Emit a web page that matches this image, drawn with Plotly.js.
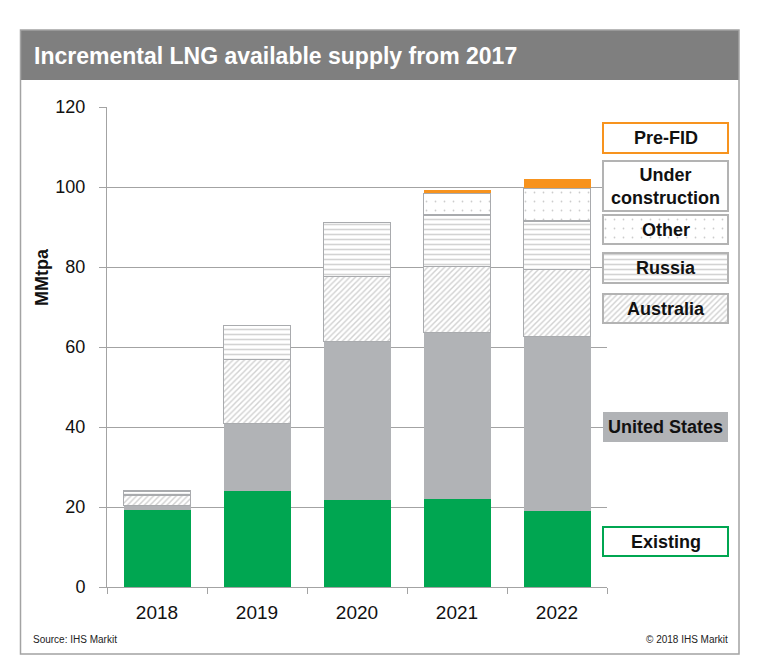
<!DOCTYPE html>
<html>
<head>
<meta charset="utf-8">
<script src="https://cdn.plot.ly/plotly-3.0.1.min.js"></script>
<style>html,body{margin:0;padding:0;background:#fff;}#chart{width:758px;height:672px;}</style>
</head>
<body>
<div id="chart"></div>
<script>
// ---- data ----
const years = ['2018', '2019', '2020', '2021', '2022'];
const existing = [19.3, 24.1, 21.7, 22.0, 18.9];
const unitedStates = [1.0, 16.8, 39.7, 41.6, 43.7];
const australia = [2.7, 15.9, 16.2, 16.6, 16.8];
const russia = [1.0, 8.5, 13.6, 12.8, 12.1];
const other = [null, null, null, 5.4, 8.2];
const preFid = [null, null, null, 0.85, 2.2];
const yTicks = [0, 20, 40, 60, 80, 100, 120];

// ---- geometry helpers (pixels -> paper) ----
const W = 758, H = 672, L = 107, R = 28, T = 107, B = 85;
const plotW = W - L - R, plotH = H - T - B;
const ppx = x => (x - L) / plotW;
const ppy = y => (H - B - y) / plotH;
const pyv = y => (H - B - y) / plotH * 120; // pixel -> y value on legend axis

const FONT = 'Liberation Sans, Arial, Helvetica, sans-serif';
const GREEN = '#00a651', GREY = '#b1b3b6', ORANGE = '#f7931e', EDGE = '#a9abae';

const pat = (shape, size, solidity, fg) => ({shape: shape, size: size, solidity: solidity, fgcolor: fg, bgcolor: 'white', fillmode: 'overlay'});
const PAT_AUS = pat('/', 4, 0.36, '#a3a3a3');
const PAT_RUS = pat('-', 5, 0.32, '#a8a8a8');
const PAT_OTH = pat('.', 9, 0.03, '#9a9a9a');
const styles = {
  existing: {color: GREEN, line: {width: 0}},
  us: {color: GREY, line: {width: 0}},
  australia: {color: 'white', pattern: PAT_AUS, line: {color: EDGE, width: 1.2}},
  russia: {color: 'white', pattern: PAT_RUS, line: {color: EDGE, width: 1.2}},
  other: {color: 'white', pattern: PAT_OTH, line: {color: EDGE, width: 1.2}},
  prefid: {color: ORANGE, line: {width: 0}}
};

function barTrace(name, vals, st) {
  return {type: 'bar', name: name, x: years, y: vals, marker: st, hovertemplate: name + ': %{y}<extra></extra>', showlegend: false};
}

const traces = [
  barTrace('Existing', existing, styles.existing),
  barTrace('United States', unitedStates, styles.us),
  barTrace('Australia', australia, styles.australia),
  barTrace('Russia', russia, styles.russia),
  barTrace('Other', other, styles.other),
  barTrace('Pre-FID', preFid, styles.prefid)
];

// ---- legend boxes (layout: pixel top/bottom of each box) ----
const legendBoxes = [
  {text: 'Pre-FID', top: 123, bot: 153, marker: {color: 'white', line: {color: ORANGE, width: 2}}},
  {text: 'Under<br>construction', top: 161, bot: 211, marker: {color: 'white', line: {color: '#b3b3b3', width: 2}}},
  {text: 'Other', top: 215, bot: 244, marker: {color: 'white', pattern: PAT_OTH, line: {color: '#b3b3b3', width: 2}}},
  {text: 'Russia', top: 253, bot: 283, marker: {color: 'white', pattern: PAT_RUS, line: {color: '#b3b3b3', width: 2}}},
  {text: 'Australia', top: 294, bot: 323, marker: {color: 'white', pattern: PAT_AUS, line: {color: '#b3b3b3', width: 2}}},
  {text: 'United States', top: 412, bot: 442, marker: {color: GREY, line: {width: 0}}},
  {text: 'Existing', top: 527, bot: 556, marker: {color: 'white', line: {color: GREEN, width: 2}}}
];

const annotations = [];
legendBoxes.forEach(b => {
  traces.push({type: 'bar', xaxis: 'x2', yaxis: 'y2', x: [0.5], width: [1], base: [pyv(b.bot)], y: [pyv(b.top) - pyv(b.bot)],
    marker: b.marker, hoverinfo: 'skip', showlegend: false});
  annotations.push({xref: 'x2', yref: 'y2', x: 0.5, y: (pyv(b.top) + pyv(b.bot)) / 2, text: '<b>' + b.text + '</b>',
    showarrow: false, xanchor: 'center', yanchor: 'middle', font: {family: FONT, size: 18, color: '#111'}});
});

annotations.push(
  {xref: 'paper', yref: 'paper', x: ppx(32), y: ppy(56), xanchor: 'left', yanchor: 'middle', showarrow: false,
   text: '<b>Incremental LNG available supply from 2017</b>', font: {family: FONT, size: 23, color: '#ffffff'}},
  {xref: 'paper', yref: 'paper', x: ppx(42), y: ppy(277), xanchor: 'center', yanchor: 'middle', showarrow: false, textangle: -90,
   text: '<b>MMtpa</b>', font: {family: FONT, size: 18, color: '#111'}},
  {xref: 'paper', yref: 'paper', x: ppx(31), y: ppy(639), xanchor: 'left', yanchor: 'middle', showarrow: false,
   text: 'Source: IHS Markit', font: {family: FONT, size: 10, color: '#222'}},
  {xref: 'paper', yref: 'paper', x: ppx(730), y: ppy(639), xanchor: 'right', yanchor: 'middle', showarrow: false,
   text: '© 2018 IHS Markit', font: {family: FONT, size: 10, color: '#222'}}
);

const shapes = [
  {type: 'rect', xref: 'paper', yref: 'paper', x0: ppx(20.5), x1: ppx(739), y0: ppy(80), y1: ppy(30), fillcolor: '#7f7f7f', line: {width: 0}, layer: 'below'},
  {type: 'rect', xref: 'paper', yref: 'paper', x0: ppx(20.5), x1: ppx(739), y0: ppy(654), y1: ppy(30), fillcolor: 'rgba(0,0,0,0)', line: {color: '#a3a3a3', width: 1.5}, layer: 'above'}
];

const layout = {
  width: W, height: H,
  margin: {l: L, r: R, t: T, b: B, pad: 0},
  paper_bgcolor: '#ffffff', plot_bgcolor: 'rgba(0,0,0,0)',
  barmode: 'stack', bargap: 0.33,
  showlegend: false,
  font: {family: FONT, color: '#111'},
  xaxis: {domain: [0, 500 / plotW], type: 'category', tickson: 'boundaries', ticks: 'outside', ticklen: 6, tickcolor: '#a3a3a3',
          showline: true, linecolor: '#a3a3a3', linewidth: 1, showgrid: false, tickfont: {family: FONT, size: 19, color: '#111'},
          ticklabelstandoff: 8, fixedrange: true},
  yaxis: {range: [0, 120], tickvals: yTicks, ticks: 'outside', ticklen: 7, tickcolor: '#a3a3a3', showline: true, linecolor: '#a3a3a3',
          linewidth: 1, showgrid: true, gridcolor: '#a3a3a3', gridwidth: 1, zeroline: false,
          tickfont: {family: FONT, size: 18, color: '#111'}, ticklabelstandoff: 10, fixedrange: true},
  xaxis2: {domain: [(601 - L) / plotW, 1], range: [-0.016, 1.016], anchor: 'y2', visible: false, fixedrange: true},
  yaxis2: {domain: [0, 1], range: [0, 120], anchor: 'x2', visible: false, fixedrange: true},
  shapes: shapes,
  annotations: annotations
};

Plotly.newPlot('chart', traces, layout, {displayModeBar: false, staticPlot: true});
</script>
</body>
</html>
